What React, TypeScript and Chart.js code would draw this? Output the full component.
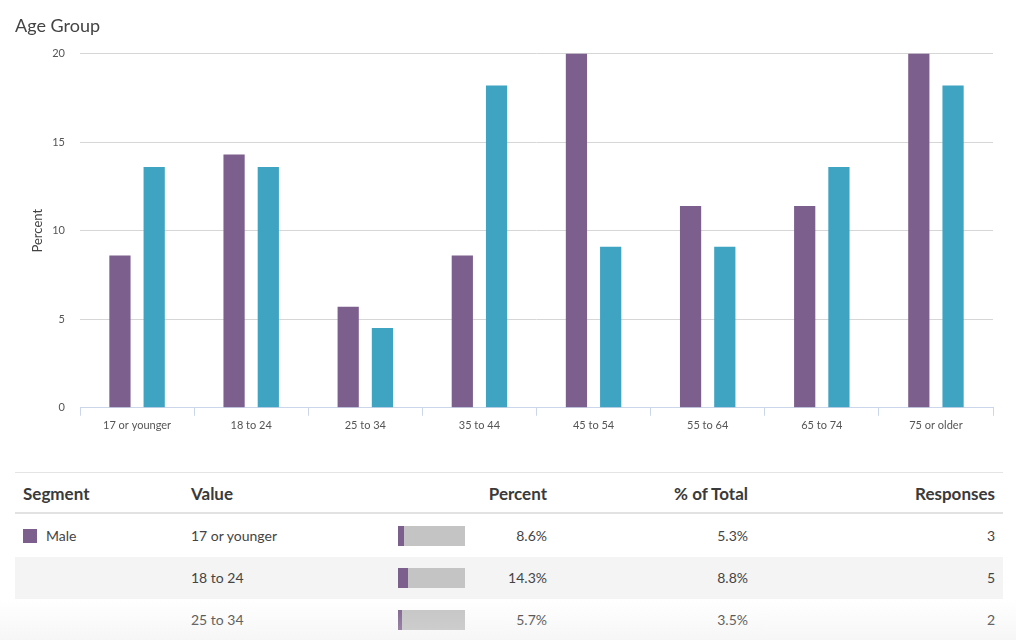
import React, { useEffect, useRef } from "react";
import { Chart, registerables } from "chart.js";

Chart.register(...registerables);

const categories = ["17 or younger", "18 to 24", "25 to 34", "35 to 44", "45 to 54", "55 to 64", "65 to 74", "75 or older"];
const maleValues = [8.6, 14.3, 5.7, 8.6, 20.0, 11.4, 11.4, 20.0];
const femaleValues = [13.6, 13.6, 4.5, 18.2, 9.1, 9.1, 13.6, 18.2];
const yTicks = [0, 5, 10, 15, 20];

const tableHeaders = ["Segment", "Value", "Percent", "% of Total", "Responses"];
const tableSegment = ["Male", "", ""];
const tableValues = ["17 or younger", "18 to 24", "25 to 34"];
const tablePercent = [8.6, 14.3, 5.7];
const tableTotal = [5.3, 8.8, 3.5];
const tableResponses = [3, 5, 2];

const PURPLE = "#7d5f8e";
const BLUE = "#3fa3c2";
const FONT = "Lato, 'Open Sans', sans-serif";

function BarChart() {
  const ref = useRef<HTMLCanvasElement | null>(null);
  useEffect(() => {
    if (!ref.current) return;
    const chart = new Chart(ref.current, {
      type: "bar",
      data: {
        labels: categories,
        datasets: [
          { label: "Male", data: maleValues, backgroundColor: PURPLE, categoryPercentage: 0.6, barPercentage: 0.62 },
          { label: "Female", data: femaleValues, backgroundColor: BLUE, categoryPercentage: 0.6, barPercentage: 0.62 },
        ],
      },
      options: {
        animation: false,
        responsive: false,
        maintainAspectRatio: false,
        layout: { padding: { left: 15, right: 23, top: 0, bottom: 0 } },
        plugins: {
          legend: { display: false },
          tooltip: { enabled: false },
          title: {
            display: true,
            text: "Age Group",
            align: "start",
            color: "#444",
            font: { family: FONT, size: 18, weight: "normal" },
            padding: { top: 15, bottom: 17 },
          },
        },
        scales: {
          x: {
            grid: { display: true, drawOnChartArea: false, drawTicks: true, tickLength: 8, color: "#ccd6eb", offset: true },
            border: { display: true, color: "#ccd6eb" },
            ticks: { color: "#555", font: { family: FONT, size: 11 }, padding: 3, maxRotation: 0 },
          },
          y: {
            min: 0,
            max: 20,
            afterBuildTicks: (scale: any) => {
              scale.ticks = yTicks.map((v) => ({ value: v }));
            },
            afterFit: (scale: any) => {
              scale.width = 65;
            },
            grid: { color: "#d6d6d6", drawTicks: false },
            border: { display: false },
            ticks: { color: "#555", font: { family: FONT, size: 11 }, padding: 15 },
            title: { display: true, text: "Percent", color: "#444", font: { family: FONT, size: 13 }, padding: { top: 15, bottom: 4 } },
          },
        },
      },
    });
    return () => chart.destroy();
  }, []);
  return <canvas ref={ref} width={1016} height={435} style={{ position: "absolute", left: 0, top: 0, width: 1016, height: 435 }} />;
}

function Table() {
  const rowTop = 515;
  const rowH = 42;
  const headerStyle: React.CSSProperties = { position: "absolute", top: 483, fontWeight: "bold", fontSize: 17, color: "#3a3a3a", lineHeight: "22px" };
  const cell: React.CSSProperties = { position: "absolute", fontSize: 14, color: "#444", lineHeight: "20px" };
  return (
    <>
      <div style={{ position: "absolute", left: 15, top: 472, width: 988, height: 1, background: "#e4e4e4" }} />
      <div style={{ ...headerStyle, left: 23 }}>{tableHeaders[0]}</div>
      <div style={{ ...headerStyle, left: 191 }}>{tableHeaders[1]}</div>
      <div style={{ ...headerStyle, right: 1016 - 547, textAlign: "right" }}>{tableHeaders[2]}</div>
      <div style={{ ...headerStyle, right: 1016 - 748, textAlign: "right" }}>{tableHeaders[3]}</div>
      <div style={{ ...headerStyle, right: 1016 - 995, textAlign: "right" }}>{tableHeaders[4]}</div>
      <div style={{ position: "absolute", left: 15, top: 512, width: 988, height: 2, background: "#e2e2e2" }} />
      {tableValues.map((v, i) => {
        const top = rowTop + i * rowH;
        const textTop = top + 11;
        return (
          <React.Fragment key={i}>
            <div style={{ position: "absolute", left: 15, top, width: 988, height: rowH, background: i % 2 === 1 ? "#f4f4f4" : "transparent" }} />
            {tableSegment[i] && (
              <>
                <div style={{ position: "absolute", left: 23, top: top + 14, width: 14, height: 14, background: PURPLE }} />
                <div style={{ ...cell, left: 46, top: textTop }}>{tableSegment[i]}</div>
              </>
            )}
            <div style={{ ...cell, left: 191, top: textTop }}>{v}</div>
            <div style={{ position: "absolute", left: 398, top: top + 11, width: 67, height: 20, background: "#c4c4c4" }}>
              <div style={{ width: `${tablePercent[i]}%`, height: "100%", background: PURPLE }} />
            </div>
            <div style={{ ...cell, right: 1016 - 547, top: textTop, textAlign: "right" }}>{tablePercent[i].toFixed(1)}%</div>
            <div style={{ ...cell, right: 1016 - 748, top: textTop, textAlign: "right" }}>{tableTotal[i].toFixed(1)}%</div>
            <div style={{ ...cell, right: 1016 - 995, top: textTop, textAlign: "right" }}>{tableResponses[i]}</div>
          </React.Fragment>
        );
      })}
      <div style={{ position: "absolute", left: 0, top: 600, width: 1016, height: 40, background: "linear-gradient(rgba(255,255,255,0), rgba(230,230,230,0.35))", pointerEvents: "none" }} />
    </>
  );
}

export default function App() {
  return (
    <div style={{ position: "fixed", left: 0, top: 0, width: 1016, height: 640, overflow: "hidden", background: "#fff", fontFamily: FONT }}>
      <BarChart />
      <Table />
    </div>
  );
}
